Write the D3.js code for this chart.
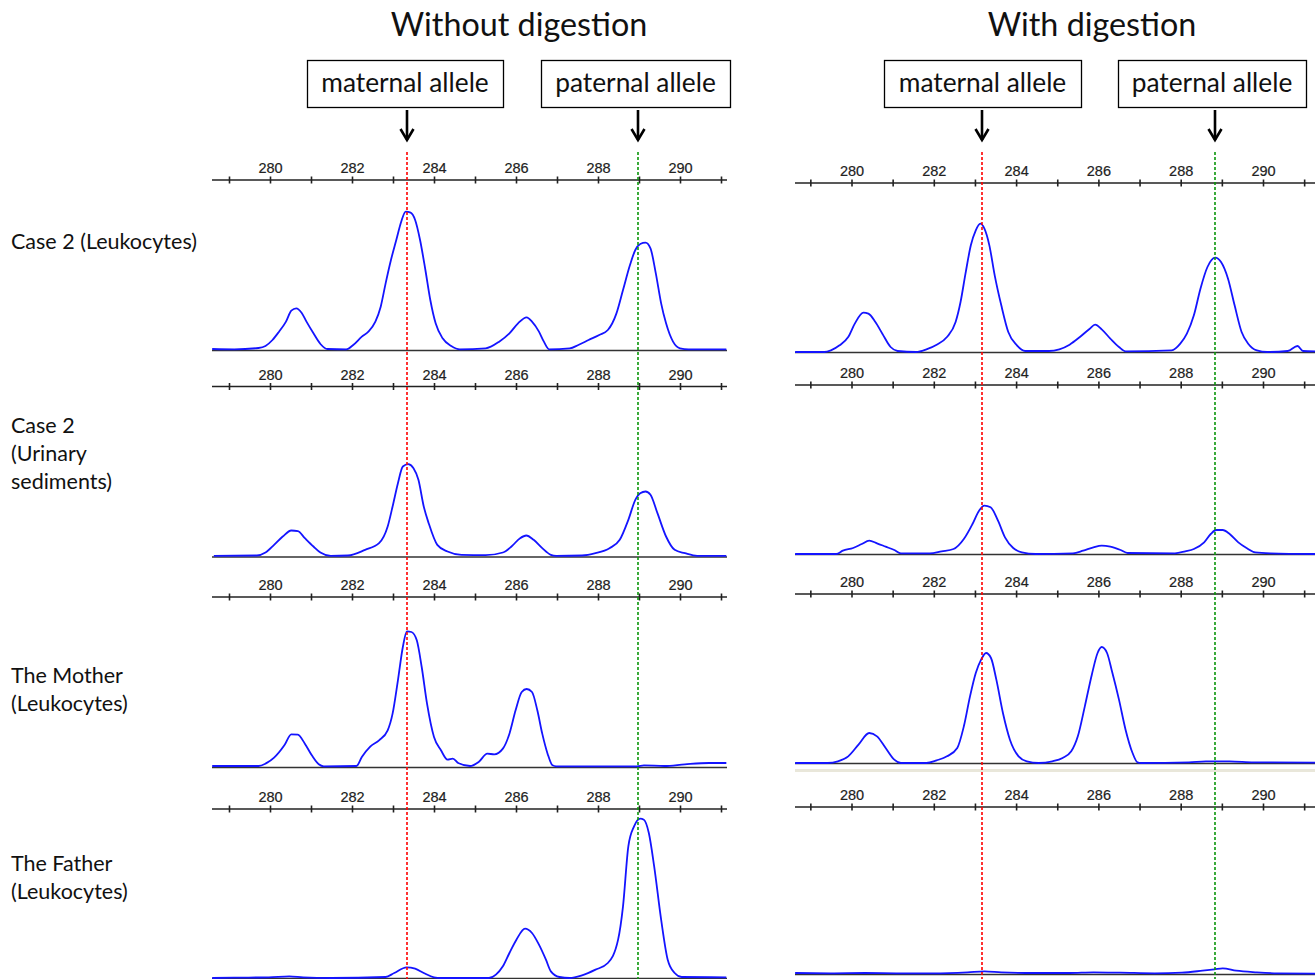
<!DOCTYPE html>
<html><head><meta charset="utf-8">
<script src="https://cdn.jsdelivr.net/npm/d3@7"></script>
<style>html,body{margin:0;padding:0;background:#fff;}svg{display:block;}</style>
</head><body>
<svg id="chart" width="1315" height="979"></svg>
<script>
// ---------------- DATA ----------------
const columnTitles = ["Without digestion", "With digestion"];
const alleleLabels = ["maternal allele", "paternal allele"];
const rowLabels = [["Case 2 (Leukocytes)"], ["Case 2", "(Urinary", "sediments)"], ["The Mother", "(Leukocytes)"], ["The Father", "(Leukocytes)"]];
const tickValues = [279, 280, 281, 282, 283, 284, 285, 286, 287, 288, 289, 290, 291];
const tickLabels = ["280", "282", "284", "286", "288", "290"];
// allele sizes (bp) marked by the dashed lines: [maternal, paternal]
const allelesWithout = [283.33, 288.98];
const allelesWith = [283.17, 288.84];

// Electropherogram traces: [size (bp), signal (a.u.)]
const case2LeukoWithout = [[278.59,3],[279.13,2],[279.72,6],[279.89,12],[280.06,30],[280.22,55],[280.39,85],[280.52,118],[280.64,125],[280.77,112],[280.89,85],[281.06,50],[281.23,18],[281.40,3],[281.86,2],[282.03,15],[282.24,40],[282.40,55],[282.57,85],[282.70,130],[282.82,200],[282.95,270],[283.08,330],[283.20,385],[283.31,415],[283.43,412],[283.54,390],[283.66,330],[283.79,240],[283.91,150],[284.04,80],[284.21,35],[284.42,12],[284.63,2],[285.26,5],[285.59,25],[285.84,50],[286.05,80],[286.26,98],[286.39,85],[286.56,55],[286.68,25],[286.81,2],[287.31,5],[287.52,15],[287.77,30],[288.03,45],[288.24,60],[288.45,110],[288.61,180],[288.78,255],[288.91,300],[289.03,318],[289.16,322],[289.28,305],[289.41,230],[289.54,140],[289.66,80],[289.83,25],[290.00,5],[290.21,2],[291.13,2]];
const case2UrineWithout = [[278.63,2],[279.68,3],[279.89,12],[280.10,35],[280.31,60],[280.52,78],[280.68,76],[280.85,55],[281.06,30],[281.23,12],[281.48,2],[281.90,3],[282.32,20],[282.66,40],[282.87,90],[282.99,150],[283.12,220],[283.24,270],[283.37,277],[283.50,265],[283.62,230],[283.75,150],[283.87,100],[284.08,35],[284.33,15],[284.67,5],[285.26,4],[285.68,12],[285.89,30],[286.10,55],[286.25,63],[286.43,50],[286.64,25],[286.85,5],[286.98,2],[287.61,3],[287.94,10],[288.28,25],[288.53,50],[288.74,110],[288.91,170],[289.03,190],[289.16,195],[289.28,185],[289.45,130],[289.66,60],[289.87,20],[290.12,10],[290.42,2],[291.13,2]];
const motherWithout = [[278.59,3],[279.72,3],[279.89,10],[280.10,28],[280.35,65],[280.52,98],[280.68,97],[280.85,70],[281.02,35],[281.19,8],[281.31,2],[282.11,3],[282.24,30],[282.45,62],[282.66,80],[282.87,110],[282.99,160],[283.12,260],[283.24,360],[283.34,407],[283.45,405],[283.58,380],[283.70,300],[283.83,190],[284.00,90],[284.17,50],[284.33,22],[284.46,25],[284.59,12],[284.88,3],[285.09,15],[285.30,40],[285.47,38],[285.68,55],[285.84,100],[285.99,170],[286.14,225],[286.26,234],[286.39,225],[286.52,170],[286.64,100],[286.77,40],[286.89,5],[286.98,2],[288.95,2],[289.12,5],[289.62,3],[290.12,8],[290.71,12],[291.13,12]];
const fatherWithout = [[278.59,0],[279.13,1],[279.97,2],[280.47,5],[280.81,2],[281.48,0],[282.82,3],[283.03,15],[283.33,32],[283.54,28],[283.75,15],[284.00,2],[284.17,0],[285.34,0],[285.51,10],[285.68,35],[285.84,75],[286.01,115],[286.22,148],[286.39,135],[286.56,100],[286.73,55],[286.85,20],[287.06,3],[287.31,0],[287.61,8],[287.94,25],[288.24,45],[288.49,115],[288.61,215],[288.74,395],[288.88,455],[289.03,478],[289.12,475],[289.24,435],[289.37,335],[289.54,175],[289.70,55],[289.87,15],[290.04,3],[291.13,2]];
const case2LeukoWith = [[278.63,0],[279.34,0],[279.50,5],[279.71,20],[279.92,45],[280.08,85],[280.29,118],[280.41,115],[280.58,90],[280.75,55],[280.95,15],[281.12,3],[281.57,0],[281.82,8],[282.07,22],[282.32,45],[282.53,90],[282.65,150],[282.77,235],[282.90,320],[283.02,365],[283.13,385],[283.23,370],[283.35,320],[283.48,230],[283.64,140],[283.81,60],[284.02,20],[284.22,3],[284.80,3],[285.05,8],[285.30,22],[285.55,45],[285.79,70],[285.92,82],[286.08,68],[286.29,40],[286.50,15],[286.66,2],[287.78,5],[287.99,25],[288.15,55],[288.32,110],[288.48,190],[288.65,255],[288.84,283],[288.98,270],[289.15,220],[289.31,140],[289.48,60],[289.64,25],[289.85,5],[290.10,0],[290.60,3],[290.84,18],[290.97,3],[291.27,2]];
const case2UrineWith = [[278.63,0],[279.63,0],[279.79,10],[280.04,18],[280.25,30],[280.43,40],[280.62,32],[280.83,22],[281.04,12],[281.20,2],[281.90,2],[282.19,8],[282.48,15],[282.73,45],[282.94,90],[283.10,130],[283.23,145],[283.38,140],[283.56,100],[283.73,50],[283.93,18],[284.14,5],[284.47,0],[285.38,2],[285.63,10],[285.88,20],[286.08,25],[286.29,22],[286.54,12],[286.71,3],[287.86,2],[288.11,8],[288.32,15],[288.57,35],[288.73,60],[288.86,72],[289.02,72],[289.19,60],[289.40,35],[289.60,18],[289.81,5],[290.18,2],[291.27,0]];
const motherWith = [[278.63,0],[279.42,0],[279.67,5],[279.92,20],[280.17,55],[280.43,90],[280.62,80],[280.83,45],[281.04,10],[281.20,0],[281.82,0],[282.07,8],[282.32,20],[282.57,45],[282.73,110],[282.88,200],[283.02,270],[283.15,310],[283.27,330],[283.39,315],[283.52,250],[283.68,150],[283.85,70],[284.06,20],[284.26,5],[284.55,0],[284.88,5],[285.13,15],[285.34,35],[285.50,80],[285.67,170],[285.84,265],[285.98,330],[286.08,348],[286.21,330],[286.33,275],[286.50,190],[286.66,100],[286.83,30],[286.95,2],[287.04,0],[288.20,2],[288.61,5],[289.19,5],[289.77,2],[291.27,1]];
const fatherWith = [[278.63,3],[279.50,2],[280.33,3],[281.16,2],[281.99,2],[282.82,5],[283.23,8],[283.64,5],[284.47,3],[285.30,3],[285.88,5],[286.54,4],[287.37,2],[288.03,4],[288.53,10],[288.82,14],[289.02,17],[289.35,10],[289.85,5],[290.35,2],[291.27,1]];

const tracesWithout = [case2LeukoWithout, case2UrineWithout, motherWithout, fatherWithout];
const tracesWith = [case2LeukoWith, case2UrineWith, motherWith, fatherWith];

// ---------------- LAYOUT ----------------
const FONT = "Lato, 'Open Sans', sans-serif";
const columns = [
  {title: columnTitles[0], titleX: 519, traces: tracesWithout, alleles: allelesWithout,
   x0: 212, x1: 727, r280: 270, r290: 680,
   axisY: [180, 386.5, 597, 809], base: [350, 556.5, 767, 978],
   boxC: [405, 635.5], boxW: [196, 189]},
  {title: columnTitles[1], titleX: 1092, traces: tracesWith, alleles: allelesWith,
   x0: 795, x1: 1315, r280: 851.5, r290: 1263,
   axisY: [183, 385, 594, 807], base: [352, 554, 763, 974],
   boxC: [982.5, 1212], boxW: [197, 188]}
];

const svg = d3.select("#chart");
svg.append("rect").attr("width", 1315).attr("height", 979).attr("fill", "#fff");

// row labels
const rowFirstY = [249, 433, 683, 871];
rowLabels.forEach((lines, i) => {
  const t = svg.append("text").attr("font-family", FONT).attr("font-size", 21.5).attr("fill", "#111");
  lines.forEach((ln, j) => {
    t.append("tspan").attr("x", 11).attr("y", rowFirstY[i] + j * 28).text(ln);
  });
});

columns.forEach(col => {
  const x = d3.scaleLinear().domain([280, 290]).range([col.r280, col.r290]);
  const g = svg.append("g");

  // title
  g.append("text").attr("x", col.titleX).attr("y", 36).attr("text-anchor", "middle")
    .attr("font-family", FONT).attr("font-size", 32.3).attr("fill", "#111").text(col.title);

  // allele boxes + arrows
  col.alleles.forEach((a, k) => {
    const ax = Math.round(x(a));
    const bw = col.boxW[k], bc = col.boxC[k];
    g.append("rect").attr("x", Math.round(bc - bw / 2) + 0.5).attr("y", 60.5).attr("width", bw).attr("height", 47)
      .attr("fill", "#fff").attr("stroke", "#000").attr("stroke-width", 1.3);
    g.append("text").attr("x", bc).attr("y", 92).attr("text-anchor", "middle")
      .attr("font-family", FONT).attr("font-size", 26.3).attr("fill", "#111").text(alleleLabels[k]);
    g.append("line").attr("x1", ax).attr("x2", ax).attr("y1", 110).attr("y2", 140)
      .attr("stroke", "#000").attr("stroke-width", 2.6);
    g.append("path").attr("d", `M${ax - 6.5},${129} L${ax},${140} L${ax + 6.5},${129}`)
      .attr("fill", "none").attr("stroke", "#000").attr("stroke-width", 2.6);
  });

  // panels
  col.traces.forEach((tr, i) => {
    const y = d3.scaleLinear().domain([0, 510]).range([col.base[i], col.base[i] - 170]);
    const pg = g.append("g");
    // axis
    const axis = d3.axisTop(x).tickValues(tickValues).tickSize(0)
      .tickFormat(d => tickLabels.includes(String(d)) ? String(d) : "");
    const ag = pg.append("g").attr("transform", `translate(0,${col.axisY[i]})`).call(axis);
    ag.select(".domain").remove();
    ag.selectAll(".tick line").attr("y1", -3.5).attr("y2", 3.5).attr("stroke", "#222").attr("stroke-width", 1.6);
    ag.selectAll(".tick text").attr("y", -7).attr("font-family", "'Liberation Sans', Arial, sans-serif")
      .attr("font-size", 14.5).attr("fill", "#222").attr("stroke", "#222").attr("stroke-width", 0.2);
    ag.append("line").attr("x1", col.x0).attr("x2", col.x1).attr("y1", 0).attr("y2", 0)
      .attr("stroke", "#222").attr("stroke-width", 1.5);
    // baseline
    pg.append("line").attr("x1", col.x0).attr("x2", col.x1).attr("y1", col.base[i] + 0.5).attr("y2", col.base[i] + 0.5)
      .attr("stroke", "#333").attr("stroke-width", 1.5);
    if (col.title === columnTitles[1] && i === 2) {
      pg.append("rect").attr("x", col.x0).attr("y", col.base[i] + 6).attr("width", col.x1 - col.x0).attr("height", 3)
        .attr("fill", "#e9e7da");
    }
    // trace
    const line = d3.line().x(d => x(d[0])).y(d => y(d[1])).curve(d3.curveMonotoneX);
    pg.append("path").datum(tr).attr("d", line).attr("fill", "none")
      .attr("stroke", "#1414ff").attr("stroke-width", 1.8).attr("stroke-linejoin", "round");
  });

  // dashed allele lines
  col.alleles.forEach((a, k) => {
    const ax = Math.round(x(a));
    g.append("line").attr("x1", ax).attr("x2", ax).attr("y1", 152).attr("y2", 979)
      .attr("stroke", k === 0 ? "#ff0000" : "#0a960a").attr("stroke-width", 1.6)
      .attr("stroke-dasharray", "3,2");
  });
});
</script>
</body></html>
